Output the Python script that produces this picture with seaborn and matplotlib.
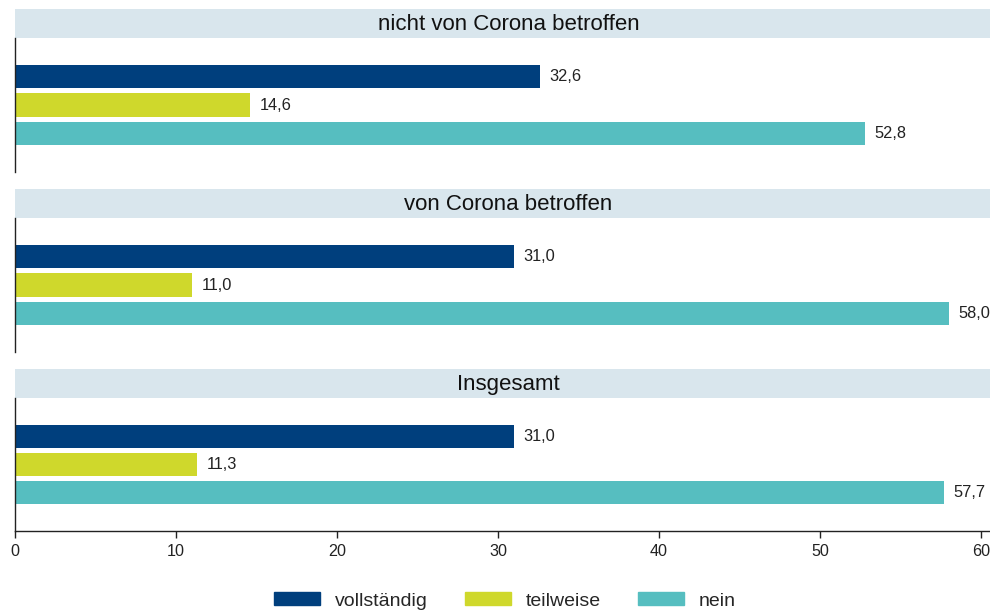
import matplotlib
matplotlib.use("Agg")
import matplotlib.pyplot as plt
import matplotlib.patches as mpatches
import seaborn as sns
import pandas as pd

# Daten
gruppen = ["nicht von Corona betroffen", "von Corona betroffen", "Insgesamt"]
antworten = ["vollständig", "teilweise", "nein"]
werte_nicht_betroffen = [32.6, 14.6, 52.8]
werte_betroffen = [31.0, 11.0, 58.0]
werte_insgesamt = [31.0, 11.3, 57.7]
x_ticks = [0, 10, 20, 30, 40, 50, 60]

farben = ["#003f7d", "#cfd82c", "#56bec0"]
strip_farbe = "#d9e6ed"

sns.set_theme(style="white")
plt.rcParams["font.family"] = ["Liberation Sans", "DejaVu Sans"]

fig = plt.figure(figsize=(9.9, 6.14), dpi=100)
W, H = 990, 614
links, rechts = 15, 990

# (strip oben, axes oben, axes unten) in Pixeln
panels = [(9, 38, 172), (189, 218, 352), (369, 398, 531)]
alle_werte = [werte_nicht_betroffen, werte_betroffen, werte_insgesamt]

for i, (gruppe, werte) in enumerate(zip(gruppen, alle_werte)):
    s_top, a_top, a_bot = panels[i]

    # Titelstreifen
    sax = fig.add_axes([links / W, 1 - a_top / H, (rechts - links) / W, (a_top - s_top) / H])
    sax.set_facecolor(strip_farbe)
    sax.set_xticks([])
    sax.set_yticks([])
    for sp in sax.spines.values():
        sp.set_visible(False)
    sax.text(0.506, 0.48, gruppe, ha="center", va="center", fontsize=16, color="#111111",
             transform=sax.transAxes)

    ax = fig.add_axes([links / W, 1 - a_bot / H, (rechts - links) / W, (a_bot - a_top) / H])
    df = pd.DataFrame({"antwort": antworten, "wert": werte})
    sns.barplot(data=df, x="wert", y="antwort", hue="antwort", palette=farben,
                saturation=1, orient="h", width=0.81, linewidth=0, legend=False, ax=ax)

    for cont in ax.containers:
        ax.bar_label(cont, labels=[f"{v:.1f}".replace(".", ",") for v in cont.datavalues],
                     padding=7, fontsize=11.8, color="#222222")

    ax.set_xlim(0, 60.56)
    ax.set_ylim(3.35, -1.35)
    ax.set_ylabel("")
    ax.set_xlabel("")
    ax.set_yticks([])
    ax.spines["top"].set_visible(False)
    ax.spines["right"].set_visible(False)
    ax.spines["left"].set_color("#222222")
    ax.spines["left"].set_linewidth(1.0)

    if i == len(gruppen) - 1:
        ax.set_xticks(x_ticks)
        ax.set_xticklabels([str(t) for t in x_ticks], fontsize=11.6, color="#222222")
        ax.spines["bottom"].set_color("#222222")
        ax.spines["bottom"].set_linewidth(1.0)
        ax.tick_params(axis="x", direction="out", length=5, width=1, color="#222222",
                       bottom=True, pad=4)
    else:
        ax.set_xticks([])
        ax.spines["bottom"].set_visible(False)

handles = [mpatches.Patch(color=c, label=a) for c, a in zip(farben, antworten)]
fig.legend(handles=handles, loc="center", bbox_to_anchor=(0.51, 1 - 601 / H), ncol=3,
           frameon=False, fontsize=14, handlelength=2.37, handleheight=0.62,
           handletextpad=0.77, columnspacing=1.9)

fig.savefig("out.png", dpi=100)
